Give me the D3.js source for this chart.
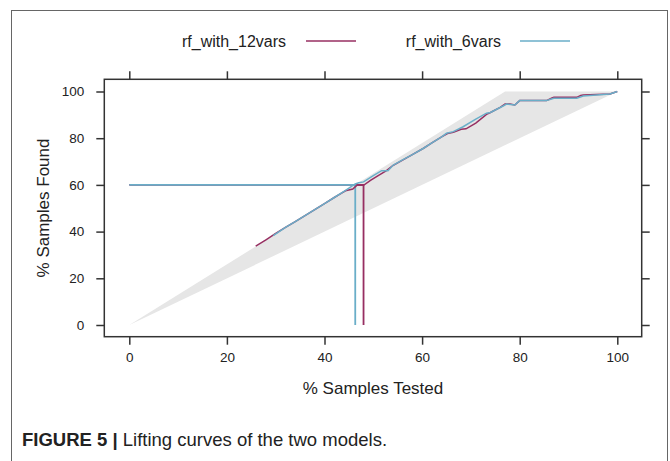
<!DOCTYPE html>
<html>
<head>
<meta charset="utf-8">
<script src="https://cdn.jsdelivr.net/npm/d3@7"></script>
<style>
  body { margin: 0; background: #fff; }
  svg text { font-family: "Liberation Sans", Arial, sans-serif; fill: #222; }
</style>
</head>
<body>
<svg id="chart" width="670" height="461"></svg>
<script>
// series: rf_with_12vars
const x12 = [25.9, 28, 30, 32, 34, 36, 38, 40, 42, 43.5, 44.3, 45.8, 46.6, 48, 49.5, 51, 52.7, 54, 56, 58, 60.3, 62, 64, 65.2, 66.4, 68, 69, 71, 73.2, 74, 76, 77, 78, 79, 80, 85.5, 86.5, 87, 91.7, 92.5, 93, 98.5, 100];
const y12 = [33.8, 36.5, 39.2, 41.8, 44.3, 46.8, 49.4, 52, 54.6, 56.5, 57.5, 58.2, 59.8, 59.8, 62, 64, 66.1, 68.3, 70.6, 73, 75.7, 78, 80.6, 82, 82.5, 83.8, 84, 86.5, 90.2, 91, 93.2, 94.6, 94.6, 94.2, 96.1, 96.1, 97.1, 97.5, 97.5, 98.3, 98.5, 98.9, 100];
// series: rf_with_6vars
const x6 = [29.5, 32, 34, 36, 38, 40, 42, 44, 46.3, 47, 48, 50, 51.7, 53, 54.1, 56, 58, 60.3, 62, 64, 65, 66.4, 68.4, 71, 73.2, 74, 76.6, 77.3, 79, 80, 85.5, 86.5, 87, 91.7, 93, 98.5, 100];
const y6 = [38.3, 41.8, 44.3, 46.8, 49.4, 52, 54.6, 57.2, 60.4, 60.9, 61.3, 64, 66.1, 66.1, 68.5, 70.7, 73, 75.7, 78, 80.6, 82.1, 82.8, 84.9, 88.2, 90.7, 91, 93.8, 94.6, 94.2, 96.1, 96.1, 96.8, 97.1, 97.1, 98.1, 98.9, 100];
// grey band between random and perfect model
const bandX = [0, 77, 100, 0];
const bandY = [0, 100, 100, 0];
// cut points at 60% found
const refValue = 60;
const cut12 = 48.0;
const cut6 = 46.3;

const ticks = [0, 20, 40, 60, 80, 100];
const seriesNames = ["rf_with_12vars", "rf_with_6vars"];
const colors = ["#972f62", "#6aaec8"];

const svg = d3.select("#chart");

// outer frame
svg.append("rect")
  .attr("x", 11.5).attr("y", 10.5)
  .attr("width", 656).attr("height", 470)
  .attr("fill", "none").attr("stroke", "#666").attr("stroke-width", 1);

const panel = { left: 104.3, right: 641.7, top: 79.3, bottom: 336.7 };
const x = d3.scaleLinear().domain([0, 100]).range([129.3, 617.3]);
const y = d3.scaleLinear().domain([0, 100]).range([325, 91.5]);

// band
svg.append("path")
  .datum(bandX.map((d, i) => [d, bandY[i]]))
  .attr("d", d3.line().x(d => x(d[0])).y(d => y(d[1])))
  .attr("fill", "#e6e6e6");

// reference lines
const refs = [cut12, cut6];
refs.forEach((c, i) => {
  svg.append("path")
    .attr("d", d3.line()([[x(0), y(refValue)], [x(c), y(refValue)], [x(c), y(0)]]))
    .attr("fill", "none")
    .attr("stroke", colors[i])
    .attr("stroke-width", 1.8);
});

// curves
const curves = [[x12, y12], [x6, y6]];
curves.forEach((s, i) => {
  svg.append("path")
    .datum(s[0].map((d, j) => [d, s[1][j]]))
    .attr("d", d3.line().x(d => x(d[0])).y(d => y(d[1])))
    .attr("fill", "none")
    .attr("stroke", colors[i])
    .attr("stroke-width", 1.5);
});

// panel border
svg.append("rect")
  .attr("x", panel.left).attr("y", panel.top)
  .attr("width", panel.right - panel.left).attr("height", panel.bottom - panel.top)
  .attr("fill", "none").attr("stroke", "#333").attr("stroke-width", 1.5);

// axes (ticks on all four sides, labels bottom and left)
const tickLen = 8;
svg.append("g").attr("transform", `translate(0,${panel.bottom})`)
  .call(d3.axisBottom(x).tickValues(ticks).tickSize(tickLen).tickPadding(8))
  .call(g => g.select(".domain").remove());
svg.append("g").attr("transform", `translate(0,${panel.top})`)
  .call(d3.axisTop(x).tickValues(ticks).tickSize(tickLen).tickFormat(""))
  .call(g => g.select(".domain").remove());
svg.append("g").attr("transform", `translate(${panel.left},0)`)
  .call(d3.axisLeft(y).tickValues(ticks).tickSize(tickLen).tickPadding(12))
  .call(g => g.select(".domain").remove());
svg.append("g").attr("transform", `translate(${panel.right},0)`)
  .call(d3.axisRight(y).tickValues(ticks).tickSize(tickLen).tickFormat(""))
  .call(g => g.select(".domain").remove());

svg.selectAll(".tick line").attr("stroke", "#333").attr("stroke-width", 1.5);
svg.selectAll(".tick text").attr("font-size", 13.5).attr("font-family", "Liberation Sans, Arial, sans-serif").attr("fill", "#1a1a1a");

// axis titles
svg.append("text")
  .attr("x", (panel.left + panel.right) / 2).attr("y", 394)
  .attr("text-anchor", "middle").attr("font-size", 17)
  .text("% Samples Tested");
svg.append("text")
  .attr("transform", `translate(49,${(panel.top + panel.bottom) / 2}) rotate(-90)`)
  .attr("text-anchor", "middle").attr("font-size", 17)
  .text("% Samples Found");

// legend
const legendItems = [
  { name: seriesNames[0], textEnd: 286, l0: 306, l1: 356 },
  { name: seriesNames[1], textEnd: 501, l0: 520, l1: 570 }
];
legendItems.forEach((d, i) => {
  svg.append("text")
    .attr("x", d.textEnd).attr("y", 47)
    .attr("text-anchor", "end").attr("font-size", 16)
    .text(d.name);
  svg.append("line")
    .attr("x1", d.l0).attr("x2", d.l1).attr("y1", 41).attr("y2", 41)
    .attr("stroke", colors[i]).attr("stroke-width", 1.5);
});

// caption
const cap = svg.append("text").attr("x", 22).attr("y", 446).attr("font-size", 18.5);
cap.append("tspan").attr("font-weight", "bold").text("FIGURE 5 | ");
cap.append("tspan").text("Lifting curves of the two models.");
</script>
</body>
</html>
